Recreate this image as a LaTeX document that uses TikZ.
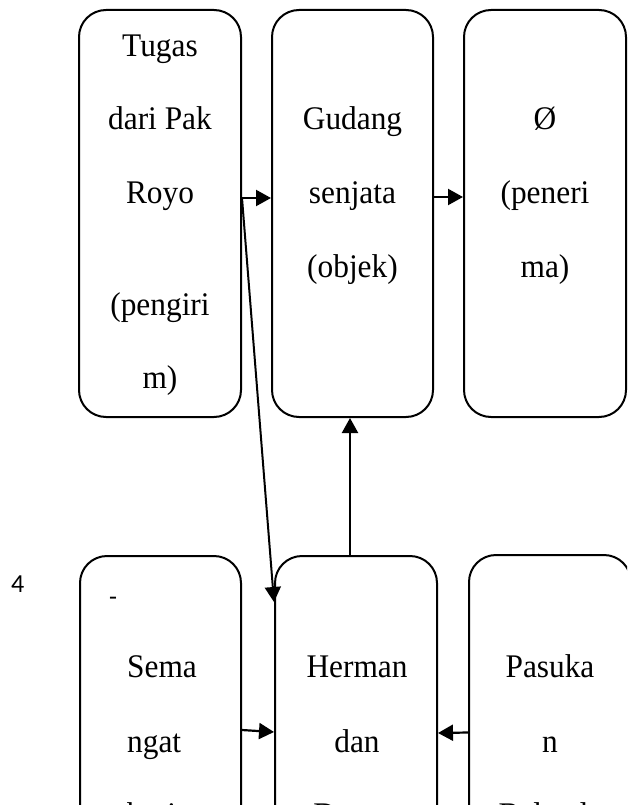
\documentclass[tikz,border=0pt]{standalone}
\usepackage{fontspec}
\setmainfont{Liberation Serif}[FakeStretch=0.95]
\newfontfamily\calibrifont{Carlito}
\usetikzlibrary{arrows.meta}
\tikzstyle{card}=[draw,line width=2pt,rounded corners=27pt,inner sep=0pt]
\tikzstyle{arr}=[line width=2.2pt,-{Triangle[length=15pt,width=16pt]}]
\tikzstyle{txt}=[inner sep=0pt,font=\fontsize{33}{38}\selectfont]
\newcommand{\drawcard}[5]{
\pgfmathsetmacro{\cx}{(#2+#3)/2}
\pgfmathsetmacro{\cy}{(#4+#5)/2}
\pgfmathsetmacro{\w}{#3-#2}
\pgfmathsetmacro{\h}{#5-#4}
\node[card,minimum width=\w pt,minimum height=\h pt] (#1) at (\cx,\cy) {};
}
\newcommand{\drawtext}[4]{
  \foreach \y/\t [count=\i] in {#4} {
    \node[txt,anchor=#3] (#1-\i) at (#2,\y) {\t};
  }
}

\begin{document}
\begin{tikzpicture}[x=1pt,y=-1pt]
	\useasboundingbox (0,0) rectangle (627,805);
	\clip (0,0) rectangle (627,805);
	% top row
	\drawcard{tugas}{79}{241}{10}{417}
	\drawcard{gudang}{272}{433}{10}{417}
	\drawcard{penerima}{464}{626}{10}{417}
	\drawtext{tugas}{160}{base}{57/Tugas, 130/dari Pak, 204/Royo, 315/(pengiri, 388/m)}
	\drawtext{gudang}{352.5}{base}{130/Gudang, 204/senjata, 277/(objek)}
	\drawtext{penerima}{545}{base}{130/Ø, 204/(peneri, 277/ma)}
	% bottom row
	\drawcard{semangat}{80}{241}{556}{1000}
	\drawcard{herman}{275}{437}{556}{1000}
	\drawcard{pasukan}{469}{631}{555}{1000}
	\node[anchor=base west,inner sep=0pt,font=\calibrifont\fontsize{26}{30}\selectfont] (num) at (11,592) {4};
	\node[anchor=base west,inner sep=0pt,font=\calibrifont\fontsize{26}{30}\selectfont] (dash) at (109,605) {-};
	\drawtext{semangat}{127}{base west}{677/Sema, 752/ngat, 825/berjuang}
	\drawtext{herman}{357}{base}{677/Herman, 752/dan, 825/Darmo}
	\drawtext{pasukan}{550}{base}{677/Pasuka, 752/n, 825/Belanda}
	% arrows
	\draw[arr] ([yshift=15.5pt]tugas.east) -- ([yshift=15.5pt]gudang.west);
	\draw[arr] ([yshift=16.5pt]gudang.east) -- ([yshift=16.5pt]penerima.west);
	\draw[arr,line width=2pt] ([yshift=15.5pt]tugas.east) -- ([yshift=176pt]herman.west);
	\draw[arr] ([xshift=-6pt]herman.north) -- ([xshift=-6pt]herman.north |- gudang.south);
	\draw[arr] ([yshift=48pt]semangat.east) -- ([yshift=46pt]herman.west);
	\draw[arr] ([yshift=45pt]pasukan.west) -- ([yshift=45pt]herman.east);
\end{tikzpicture}
\end{document}
